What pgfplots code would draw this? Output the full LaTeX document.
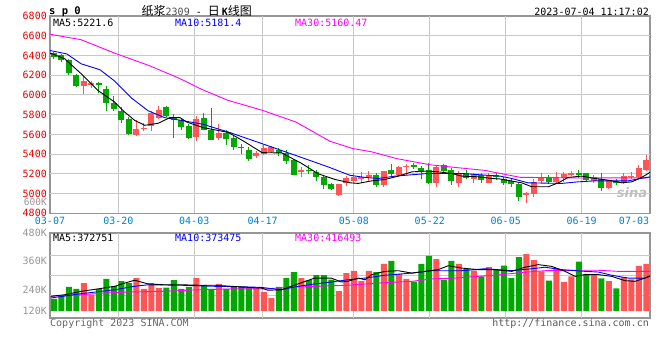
\documentclass[border=0pt]{standalone}
\usepackage{pgfplots}
\usepackage{pgfplotstable}
\pgfplotsset{compat=1.18}
\usepackage{fontspec}
\setmonofont{DejaVu Sans Mono}
\setsansfont{DejaVu Sans}
\newfontfamily\cjk{Noto Sans CJK SC}
\definecolor{upred}{RGB}{255,85,85}
\definecolor{dngreen}{RGB}{0,168,0}
\definecolor{tickred}{RGB}{230,0,0}
\definecolor{dateblue}{RGB}{0,128,208}
\definecolor{framegray}{RGB}{150,150,150}
\definecolor{gridgray}{RGB}{200,200,200}
\definecolor{maten}{RGB}{0,0,255}
\definecolor{mathirty}{RGB}{255,0,255}
\definecolor{labgray}{RGB}{150,150,150}

% candles: index, open, high, low, close
\pgfplotstableread{
i o h l c
4 6089 6190 6005 6146
5 6103 6146 6069 6119
11 5591 5742 5584 5659
12 5655 5715 5631 5668
13 5689 5836 5634 5816
14 5770 5884 5756 5850
19 5574 5783 5530 5755
22 5564 5702 5547 5614
27 5382 5432 5362 5412
28 5406 5490 5389 5463
29 5419 5480 5410 5473
33 5214 5265 5170 5244
38 4985 5100 4980 5096
39 5103 5177 5076 5153
40 5126 5210 5109 5170
41 5143 5217 5103 5170
42 5170 5227 5126 5184
44 5086 5230 5069 5227
46 5187 5280 5180 5271
47 5271 5295 5187 5283
51 5109 5285 5069 5271
54 5109 5230 5069 5204
56 5143 5204 5103 5194
58 5109 5210 5103 5187
63 4985 5012 4907 5002
64 4992 5143 4968 5119
65 5129 5204 5103 5164
67 5119 5220 5110 5170
68 5153 5214 5119 5194
69 5184 5227 5180 5210
72 5129 5187 5110 5170
74 5052 5140 5045 5136
76 5109 5210 5100 5177
77 5164 5220 5143 5177
78 5170 5288 5160 5264
79 5244 5389 5230 5345
}\redK
\pgfplotstableread{
i o h l c
0 6420 6440 6365 6380
1 6400 6410 6330 6358
2 6358 6365 6207 6218
3 6207 6215 6085 6095
6 6119 6129 6018 6096
7 6065 6090 5840 5920
8 5917 5985 5836 5853
9 5833 5877 5715 5742
10 5759 5776 5591 5604
15 5877 5891 5776 5783
16 5770 5803 5560 5742
17 5742 5770 5648 5675
18 5682 5709 5553 5568
20 5770 5816 5640 5648
21 5641 5871 5540 5547
23 5614 5648 5493 5550
24 5564 5581 5446 5473
25 5473 5507 5406 5458
26 5446 5473 5328 5351
30 5439 5467 5379 5416
31 5412 5439 5298 5331
32 5345 5350 5187 5187
34 5237 5288 5197 5225
35 5220 5244 5129 5170
36 5164 5187 5042 5086
37 5096 5109 5035 5045
43 5187 5210 5069 5086
45 5237 5298 5164 5197
48 5291 5305 5250 5271
49 5264 5281 5143 5214
50 5244 5305 5093 5109
52 5288 5295 5214 5230
53 5244 5258 5086 5129
55 5204 5244 5143 5160
57 5187 5204 5103 5136
59 5187 5204 5136 5164
60 5143 5170 5086 5103
61 5129 5153 5069 5093
62 5093 5109 4927 4968
66 5164 5187 5100 5119
70 5210 5237 5153 5184
71 5204 5210 5119 5136
73 5143 5204 5028 5059
75 5129 5143 5090 5103
}\greenK

\pgfplotstableread{
i v
-0.5 6425
1.46 6366
3.67 6214
5.9 6045
8.13 5927
9.46 5826
10.79 5742
12.13 5692
13.9 5712
15.5 5770
16.83 5770
17.73 5725
19.9 5669
23.27 5620
25.5 5523
27.77 5415
30.4 5412
33.06 5305
35.27 5200
37.5 5143
39.5 5109
40.6 5103
42.4 5129
44.17 5143
45.94 5177
47.73 5220
49.5 5227
51.27 5220
53.06 5204
54.39 5177
56.6 5170
58.39 5153
59.5 5148
62.39 5109
63.73 5069
65.94 5069
67.27 5109
68.6 5164
70.39 5177
72.17 5153
73.94 5136
75.73 5109
77.06 5119
78.39 5164
79.5 5215
}\maFive
\pgfplotstableread{
i v
-0.5 6450
1.73 6416
3.67 6315
6.17 6255
8.13 6140
10.34 5970
12.57 5840
14.79 5770
17.0 5742
19.9 5702
23.27 5624
27.73 5507
32.17 5389
36.6 5270
39.5 5185
41.5 5164
43.27 5153
45.5 5177
49.94 5204
54.39 5204
57.5 5187
59.5 5177
61.06 5153
63.23 5109
67.73 5103
69.9 5119
72.17 5129
76.57 5129
79.5 5170
}\maTen
\pgfplotstableread{
i v
-0.5 6615
3.63 6560
8.17 6422
12.7 6298
16.7 6170
19.77 6055
23.23 5945
27.77 5845
32.3 5725
36.83 5530
39.9 5456
42.4 5423
45.7 5355
50.2 5292
53.5 5265
57.5 5235
59.5 5204
62.17 5165
70 5158
79.5 5160
}\maThirty

% volume, display units above the bar base
\pgfplotstableread{
i v
4 129
5 76
11 152
12 102
13 129
14 106
19 152
22 125
27 106
28 88
29 60
33 152
38 92
39 175
40 185
41 138
42 185
44 217
46 171
47 148
51 240
54 217
56 186
58 203
63 263
64 235
65 183
67 195
68 134
69 160
72 166
74 138
76 156
77 146
78 208
79 217
}\redV
\pgfplotstableread{
i v
0 56
1 69
2 111
3 102
6 102
7 148
8 115
9 138
10 129
15 108
16 143
17 102
18 111
20 119
21 102
23 102
24 111
25 111
26 106
30 111
31 152
32 180
34 143
35 166
36 166
37 145
43 180
45 231
48 136
49 217
50 255
52 145
53 231
55 195
57 160
59 191
60 209
61 152
62 249
66 140
70 228
71 171
73 151
75 105
}\greenV
\pgfplotstableread{
i v
-0.41 68
1.46 75
3.67 91
5.9 102
8.13 114
9.46 129
10.79 142
12.57 125
14.79 121
17.0 121
19.23 119
21.46 119
23.67 114
25.9 109
27.67 106
28.57 96
30.34 98
32.57 125
34.79 152
37.0 152
38.34 134
39.23 137
40.6 152
41.5 144
42.39 168
44.17 183
45.94 186
47.73 175
49.5 183
51.27 191
52.6 209
54.39 198
56.6 191
58.83 191
61.06 183
62.83 202
64.6 214
66.39 206
68.17 183
69.5 160
70.83 168
72.6 168
74.39 160
76.17 140
77.5 137
78.83 152
79.5 163
}\vmaFive
\pgfplotstableread{
i v
-0.41 60
3.67 80
8.13 98
10.79 114
12.57 121
17.0 119
21.46 114
25.9 111
27.67 109
30.34 98
32.57 114
34.79 125
37.0 134
39.23 144
41.5 152
44.17 165
47.73 175
50.39 186
54.39 186
57.5 195
61.06 186
63.73 195
65.5 202
67.73 191
70.83 183
72.6 180
74.39 165
76.6 152
78.83 152
79.5 160
}\vmaTen
\pgfplotstableread{
i v
-0.41 68
3.67 75
6.79 83
10.34 88
14.79 91
19.23 98
23.67 102
28.13 102
31.23 109
34.79 114
39.23 119
43.27 129
47.73 137
50.39 148
53.5 152
56.6 160
59.73 168
62.83 179
65.5 186
69.94 188
72.6 188
75.27 183
79.5 183
}\vmaThirty

\pgfplotsset{
  kbase/.style={
    scale only axis, anchor=south west, width=600pt,
    xmin=-0.5, xmax=79.5,
    axis line style={draw=framegray, line width=1.2pt},
    major tick length=0.01pt,
    tick label style={font=\ttfamily\fontsize{10}{12}\selectfont},
    xtick={8.614,18.734,27.848,40.013,50.139,60.266,70.392},
  },
  gridln/.style={draw=gridgray, line width=1pt, solid, mark=none, forget plot},
  wick/.style={draw=none, mark=none, forget plot,
    error bars/.cd, y dir=plus, y explicit, error mark=none,
    error bar style={draw=#1, draw opacity=1, line width=1pt, solid}},
  body/.style={draw=none, mark=none, forget plot,
    error bars/.cd, y dir=plus, y explicit, error mark=none,
    error bar style={draw=#1, draw opacity=1, line width=6pt, solid}},
}

\begin{document}
\begin{tikzpicture}[font=\ttfamily\fontsize{10}{12}\selectfont]
\path[use as bounding box] (0,0) rectangle (660pt,360pt);

% ---------------- price panel
\begin{axis}[kbase,
  at={(50pt,146.7pt)}, height=197.3pt,
  ymin=4800, ymax=6800,
  ytick={4800,5000,5200,5400,5600,5800,6000,6200,6400,6600,6800},
  yticklabels={4800,5000,5200,5400,5600,5800,6000,6200,6400,6600,6800},
  yticklabel style={text=tickred, anchor=east, inner sep=0pt, xshift=-3pt},
  xticklabels={03-20,04-03,04-17,05-08,05-22,06-05,06-19},
  xticklabel style={text=dateblue, anchor=north, inner sep=0pt, yshift=-4pt},
  extra x ticks={-0.5,77.37},
  extra x tick labels={03-07,07-03},
]
% grid lines
\addplot[gridln] coordinates {(-0.5,5000) (79.5,5000)};
\addplot[gridln] coordinates {(-0.5,5200) (79.5,5200)};
\addplot[gridln] coordinates {(-0.5,5400) (79.5,5400)};
\addplot[gridln] coordinates {(-0.5,5600) (79.5,5600)};
\addplot[gridln] coordinates {(-0.5,5800) (79.5,5800)};
\addplot[gridln] coordinates {(-0.5,6000) (79.5,6000)};
\addplot[gridln] coordinates {(-0.5,6200) (79.5,6200)};
\addplot[gridln] coordinates {(-0.5,6400) (79.5,6400)};
\addplot[gridln] coordinates {(-0.5,6600) (79.5,6600)};
\addplot[gridln] coordinates {(8.614,4800) (8.614,6800)};
\addplot[gridln] coordinates {(18.734,4800) (18.734,6800)};
\addplot[gridln] coordinates {(27.848,4800) (27.848,6800)};
\addplot[gridln] coordinates {(40.013,4800) (40.013,6800)};
\addplot[gridln] coordinates {(50.139,4800) (50.139,6800)};
\addplot[gridln] coordinates {(60.266,4800) (60.266,6800)};
\addplot[gridln] coordinates {(70.392,4800) (70.392,6800)};
% candles
\addplot[wick=dngreen] table[x=i, y=l, y error plus expr=\thisrow{h}-\thisrow{l}] {\greenK};
\addplot[wick=upred] table[x=i, y=l, y error plus expr=\thisrow{h}-\thisrow{l}] {\redK};
\addplot[body=dngreen] table[x=i, y=c, y error plus expr=\thisrow{o}-\thisrow{c}] {\greenK};
\addplot[body=upred] table[x=i, y=o, y error plus expr=\thisrow{c}-\thisrow{o}] {\redK};
\addplot[mathirty, line width=0.9pt, mark=none] table[x=i, y=v] {\maThirty};
\addplot[maten, line width=0.9pt, mark=none] table[x=i, y=v] {\maTen};
\addplot[black, line width=0.9pt, mark=none] table[x=i, y=v] {\maFive};
\end{axis}

% ---------------- volume panel
\begin{axis}[kbase,
  at={(50pt,42pt)}, height=85pt,
  ymin=-32.3, ymax=360,
  ytick={0,97,231,360},
  yticklabels={120K,240K,360K,480K},
  yticklabel style={text=labgray, anchor=east, inner sep=0pt, xshift=-3pt},
  xticklabels={,,,,,,},
]
\addplot[gridln] coordinates {(-0.5,73.8) (79.5,73.8)};
\addplot[gridln] coordinates {(-0.5,166.1) (79.5,166.1)};
\addplot[gridln] coordinates {(-0.5,258.4) (79.5,258.4)};
\addplot[gridln] coordinates {(8.614,-32.3) (8.614,360)};
\addplot[gridln] coordinates {(18.734,-32.3) (18.734,360)};
\addplot[gridln] coordinates {(27.848,-32.3) (27.848,360)};
\addplot[gridln] coordinates {(40.013,-32.3) (40.013,360)};
\addplot[gridln] coordinates {(50.139,-32.3) (50.139,360)};
\addplot[gridln] coordinates {(60.266,-32.3) (60.266,360)};
\addplot[gridln] coordinates {(70.392,-32.3) (70.392,360)};
\addplot[ybar, bar width=6pt, bar shift=0pt, fill=dngreen, draw=none, forget plot] table[x=i, y=v] {\greenV};
\addplot[ybar, bar width=6pt, bar shift=0pt, fill=upred, draw=none, forget plot] table[x=i, y=v] {\redV};
\addplot[mathirty, line width=0.9pt, mark=none] table[x=i, y=v] {\vmaThirty};
\addplot[maten, line width=0.9pt, mark=none] table[x=i, y=v] {\vmaTen};
\addplot[black, line width=0.9pt, mark=none] table[x=i, y=v] {\vmaFive};
\end{axis}

% ---------------- texts
\node[anchor=west, inner sep=0pt] at (49pt,348pt) {\fontsize{10.5}{12}\selectfont\bfseries s p 0};
\node[anchor=west, inner sep=0pt] at (141.5pt,349.5pt) {{\cjk\fontsize{12}{14}\selectfont 纸浆}{\color{black!70}2309} - {\cjk\fontsize{12}{14}\selectfont 日}\hspace{2pt}{\bfseries K}{\cjk\fontsize{12}{14}\selectfont 线图}};
\node[anchor=east, inner sep=0pt] at (649pt,348pt) {2023-07-04 11:17:02};

\node[anchor=west, inner sep=0pt] at (53pt,337pt) {MA5:5221.6};
\node[anchor=west, inner sep=0pt, text=maten] at (175pt,337pt) {MA10:5181.4};
\node[anchor=west, inner sep=0pt, text=mathirty] at (295pt,337pt) {MA30:5160.47};

\node[anchor=east, inner sep=0pt, text=labgray] at (47pt,157.8pt) {\fontsize{9.5}{11}\selectfont 600K};

\node[anchor=west, inner sep=0pt] at (53pt,121.7pt) {MA5:372751};
\node[anchor=west, inner sep=0pt, text=maten] at (175pt,121.7pt) {MA10:373475};
\node[anchor=west, inner sep=0pt, text=mathirty] at (295pt,121.7pt) {MA30:416493};

\node[anchor=west, inner sep=0pt, text=black!60] at (50pt,36.7pt) {Copyright 2023 SINA.COM};
\node[anchor=east, inner sep=0pt, text=black!65] at (649pt,36.7pt) {http://finance.sina.com.cn};

\node[inner sep=0pt, text=black!25] at (632pt,167pt) {\sffamily\bfseries\itshape\fontsize{13}{13}\selectfont sina};
\end{tikzpicture}
\end{document}
